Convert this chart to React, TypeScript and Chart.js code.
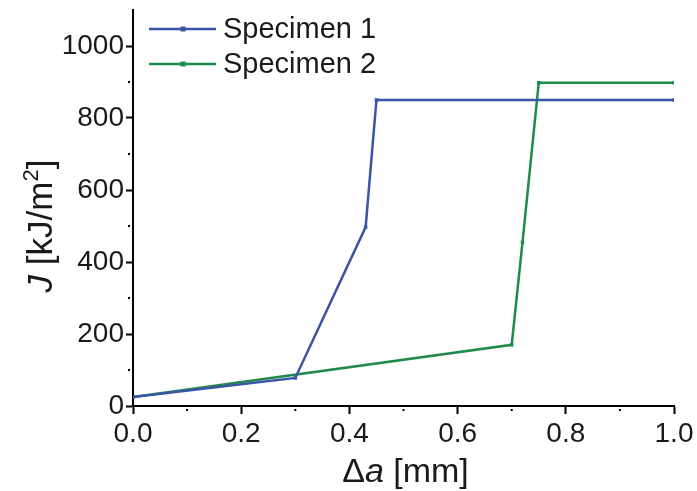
import { useEffect, useRef } from "react";
import { Chart, registerables } from "chart.js";

Chart.register(...registerables);

// Crack extension Δa [mm] and J-integral values [kJ/m²]
const specimen1Da = [0, 0.3, 0.43, 0.45, 1.0];
const specimen1J = [25, 78, 497, 850, 850];
const specimen2Da = [0, 0.7, 0.72, 0.75, 1.0];
const specimen2J = [25, 170, 455, 898, 898];

const seriesNames = ["Specimen 1", "Specimen 2"];
const seriesColors = ["#3a55a6", "#1f8a4c"];

const xTicks = [0, 0.2, 0.4, 0.6, 0.8, 1.0];
const xMinorTicks = [0.1, 0.3, 0.5, 0.7, 0.9];
const yTicks = [0, 200, 400, 600, 800, 1000];
const yMinorTicks = [100, 300, 500, 700, 900];

const FONT = '"Liberation Sans", Arial, Helvetica, sans-serif';
const TEXT = "#1a1a1a";

type Seg = { t: string; italic?: boolean; sup?: boolean };

function drawRich(ctx: CanvasRenderingContext2D, segs: Seg[], cx: number, baseline: number, size: number) {
  const fontFor = (s: Seg) =>
    `${s.italic ? "italic " : ""}${s.sup ? Math.round(size * 0.62) : size}px ${FONT}`;
  let total = 0;
  const widths = segs.map((s) => {
    ctx.font = fontFor(s);
    const w = ctx.measureText(s.t).width;
    total += w;
    return w;
  });
  let x = cx - total / 2;
  ctx.textAlign = "left";
  ctx.textBaseline = "alphabetic";
  ctx.fillStyle = TEXT;
  segs.forEach((s, i) => {
    ctx.font = fontFor(s);
    ctx.fillText(s.t, x, s.sup ? baseline - size * 0.4 : baseline);
    x += widths[i];
  });
}

const decorations = {
  id: "decorations",
  afterDraw(chart: any) {
    const ctx: CanvasRenderingContext2D = chart.ctx;
    const { left, right, bottom } = chart.chartArea;
    const xs = chart.scales.x;
    const ys = chart.scales.y;
    ctx.save();

    // minor tick dots
    ctx.fillStyle = "#000";
    xMinorTicks.forEach((v) => {
      const px = xs.getPixelForValue(v);
      ctx.fillRect(px - 1, bottom + 3, 2, 2);
    });
    yMinorTicks.forEach((v) => {
      const py = ys.getPixelForValue(v);
      ctx.fillRect(left - 5, py - 1, 2, 2);
    });

    // axis titles
    drawRich(ctx, [{ t: "Δ" }, { t: "a", italic: true }, { t: " [mm]" }], (left + right) / 2 + 2, 482, 34);
    ctx.save();
    ctx.translate(52, 226);
    ctx.rotate(-Math.PI / 2);
    drawRich(ctx, [{ t: "J", italic: true }, { t: " [kJ/m" }, { t: "2", sup: true }, { t: "]" }], 0, 0, 35);
    ctx.restore();

    // legend
    const rows = [29, 64];
    chart.data.datasets.forEach((ds: any, i: number) => {
      const y = rows[i];
      ctx.strokeStyle = ds.borderColor;
      ctx.lineWidth = 2.5;
      ctx.beginPath();
      ctx.moveTo(149, y);
      ctx.lineTo(216, y);
      ctx.stroke();
      ctx.fillStyle = ds.borderColor;
      ctx.fillRect(183 - 2.5, y - 2.5, 5, 5);
      ctx.font = `29px ${FONT}`;
      ctx.fillStyle = TEXT;
      ctx.textAlign = "left";
      ctx.textBaseline = "middle";
      ctx.fillText(ds.label, 223, y + 1);
    });
    ctx.restore();
  },
};

export default function App() {
  const canvasRef = useRef<HTMLCanvasElement>(null);

  useEffect(() => {
    document.body.style.margin = "0";
    const canvas = canvasRef.current;
    if (!canvas) return;

    const makeSeries = (xsArr: number[], jsArr: number[], i: number) => ({
      label: seriesNames[i],
      data: xsArr.map((x, k) => ({ x, y: jsArr[k] })),
      borderColor: seriesColors[i],
      backgroundColor: seriesColors[i],
      borderWidth: 2.5,
      pointStyle: "rect" as const,
      pointRadius: 2.5,
      pointBorderWidth: 0,
      tension: 0,
    });

    const tickFont = { family: FONT, size: 28 };

    const chart = new Chart(canvas, {
      type: "line",
      data: {
        datasets: [
          makeSeries(specimen1Da, specimen1J, 0),
          makeSeries(specimen2Da, specimen2J, 1),
        ],
      },
      plugins: [decorations],
      options: {
        responsive: false,
        animation: false,
        layout: { padding: { top: 10, right: 23, left: 0, bottom: 0 } },
        plugins: { legend: { display: false }, tooltip: { enabled: false } },
        scales: {
          x: {
            type: "linear",
            min: 0,
            max: 1.0,
            afterBuildTicks: (s: any) => {
              s.ticks = xTicks.map((value) => ({ value }));
            },
            afterFit: (s: any) => {
              s.height = 85;
            },
            border: { display: true, color: "#000", width: 2 },
            grid: { drawOnChartArea: false, drawTicks: true, tickLength: 8, tickColor: "#000", tickWidth: 2 },
            ticks: {
              font: tickFont,
              color: TEXT,
              padding: 3,
              maxRotation: 0,
              callback: (v: any) => Number(v).toFixed(1),
            },
          },
          y: {
            type: "linear",
            min: 0,
            max: 1100,
            afterBuildTicks: (s: any) => {
              s.ticks = yTicks.map((value) => ({ value }));
            },
            afterFit: (s: any) => {
              s.width = 133;
              s.paddingTop = 0;
              s.paddingBottom = 0;
            },
            border: { display: true, color: "#000", width: 2 },
            grid: { drawOnChartArea: false, drawTicks: true, tickLength: 7, tickColor: "#000", tickWidth: 2 },
            ticks: {
              font: tickFont,
              color: TEXT,
              padding: 2,
              callback: (v: any) => String(v),
            },
          },
        },
      },
    });

    return () => chart.destroy();
  }, []);

  return (
    <div style={{ position: "fixed", left: 0, top: 0, width: 697, height: 491, background: "#fff" }}>
      <canvas ref={canvasRef} width={697} height={491} />
    </div>
  );
}
